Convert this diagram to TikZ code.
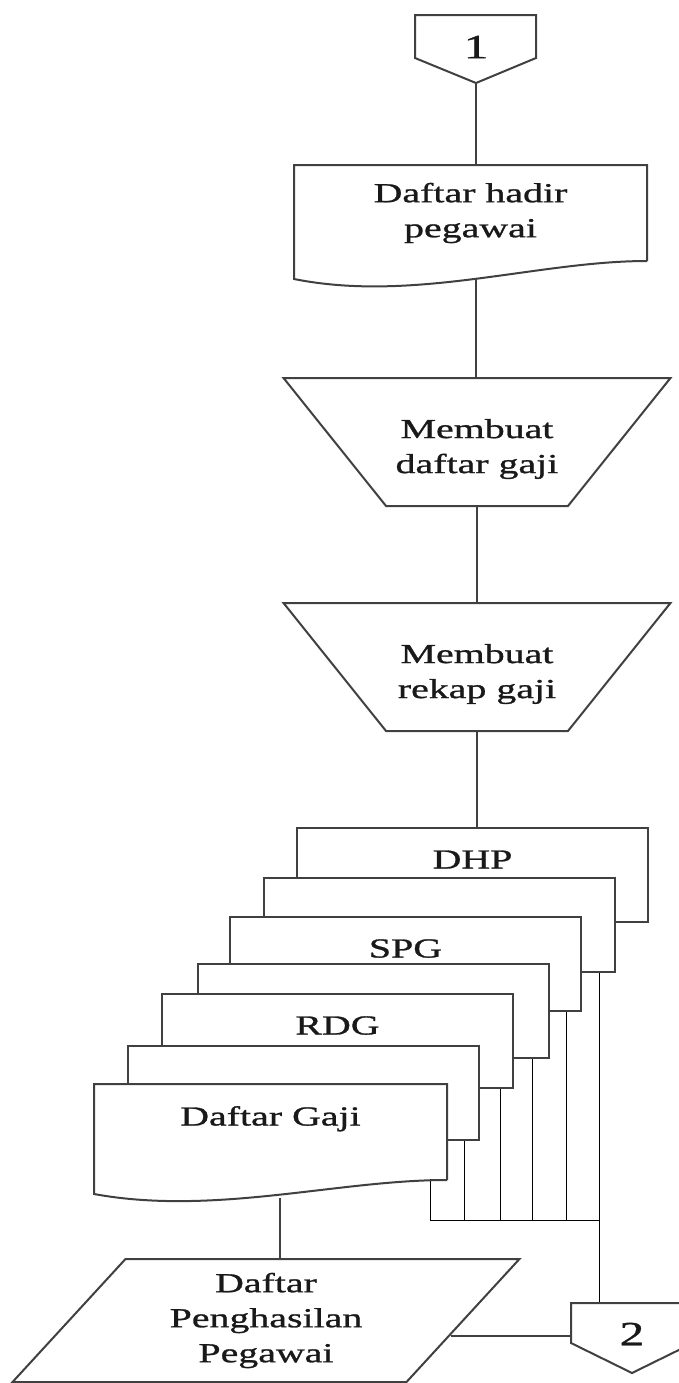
\documentclass[tikz,border=0pt]{standalone}
\usepackage{fontspec}
\setmainfont{Liberation Serif}[FakeStretch=1.45, FakeBold=1]
\usetikzlibrary{shapes.geometric,calc,backgrounds}

\def\docfont{\fontsize{13.75}{17.5}\selectfont}
\def\numfont{\fontsize{17}{20}\selectfont}

\begin{document}
\begin{tikzpicture}[x=0.5pt, y=-0.5pt, line width=1pt, color=black!75, text=black!90]
    \tikzstyle{doc}=[rectangle, fill=white, inner sep=0pt, minimum width=175.5pt, minimum height=47pt, font=\docfont]
    \tikzstyle{stackdoc}=[doc, draw, text height=9.5pt, text depth=16pt]
    \tikzstyle{proc}=[trapezium, draw, trapezium left angle=119.4, trapezium right angle=119.4, trapezium stretches=true, minimum width=193.5pt, minimum height=64pt, inner sep=2pt]
    \tikzstyle{proctext}=[align=center, inner sep=0pt, font=\docfont]
    \tikzstyle{io}=[trapezium, draw, trapezium left angle=50.9, trapezium right angle=129.1, trapezium stretches=true, minimum width=253.5pt, minimum height=61.5pt, inner sep=0pt, align=center, font=\docfont]
    \tikzstyle{conn}=[inner sep=0pt, font=\numfont]

    \useasboundingbox (0,0) rectangle (679,1383);
    \clip (0,0) rectangle (679,1383);

    % Off-page connector at the top
    \node[conn] (c1) at (476,47) {1};
    \draw (c1) ++(-61,-32) -- ++(121,0) -- ++(0,43) -- ++(-60,25) coordinate (c1tip) -- ++(-61,-25) -- cycle;

    % Attendance list
    \node[doc, anchor=north west, align=center] (hadir) at (294,165) {Daftar hadir\\pegawai};
    \draw (hadir.south east) -- (hadir.north east) -- (hadir.north west) -- ($(hadir.south west)+(0,18)$)
        .. controls +(120,24) and +(-110,0) .. (hadir.south east);
    \coordinate (w1) at ($(hadir.south)+(0,18)$);

    % Manual operations
    \node[proc] (mk1) at (477,442) {};
    \node[proctext] (mk1t) at ($(mk1)+(0,7)$) {Membuat\\daftar gaji};
    \node[proc] (mk2) at (477,667) {};
    \node[proctext] (mk2t) at ($(mk2)+(0,7)$) {Membuat\\rekap gaji};

    % Stack of documents, back to front
    \foreach \name/\x/\y/\txt in {dhp/296/827/DHP, d1/263/877/{}, spg/229/916/SPG, d2/197/963/{}, rdg/161/993/RDG, d3/127/1045/{}}
        \node[stackdoc, anchor=north west] (\name) at (\x,\y) {\txt};
    \node[doc, anchor=north west, text height=9.5pt, text depth=16pt] (gaji) at (94,1084) {Daftar Gaji};
    \draw (gaji.south east) -- (gaji.north east) -- (gaji.north west) -- ($(gaji.south west)+(0,14)$)
        .. controls +(120,22) and +(-110,0) .. (gaji.south east);

    % Report and connector at the bottom
    \node[io] (paral) at (266,1320.5) {Daftar\\Penghasilan\\Pegawai};
    \node[conn] (c2) at (632,1334) {2};
    \draw (c2) ++(-61,-31) coordinate (c2nw) -- ++(122,0) -- ++(0,40) -- ++(-61,30) -- ++(-61,-30) -- cycle;

    % Main flow
    \draw (c1tip) -- (c1tip |- hadir.north);
    \draw (c1tip |- w1) -- (c1tip |- mk1.north);
    \draw (mk1.south) -- (mk2.north);
    \draw (mk2.south) -- (mk2.south |- dhp.north);

    \coordinate (g) at ($(gaji.south)+(9,18)$);
    \draw (g) -- (g |- paral.north);

    \coordinate (pr) at ($(paral.bottom right corner)!0.38!(paral.top right corner)$);
    \draw (pr) -- (pr -| c2nw);

    % Lines out of the stacked copies
    \coordinate (bus) at ($(gaji.south)+(0,40)$);
    \begin{scope}[on background layer]
        \foreach \name in {dhp,d1,spg,d2,rdg,d3}
            \coordinate (l-\name) at ($(\name.south east)+(-50,0)$);
        \foreach \name in {d1,spg,d2,rdg,d3}
            \draw (l-\name) -- (l-\name |- bus);
        \draw (l-dhp) -- (l-dhp |- c2nw);
        \draw (l-d3 |- bus) -- (l-dhp |- bus);
    \end{scope}
\end{tikzpicture}
\end{document}
